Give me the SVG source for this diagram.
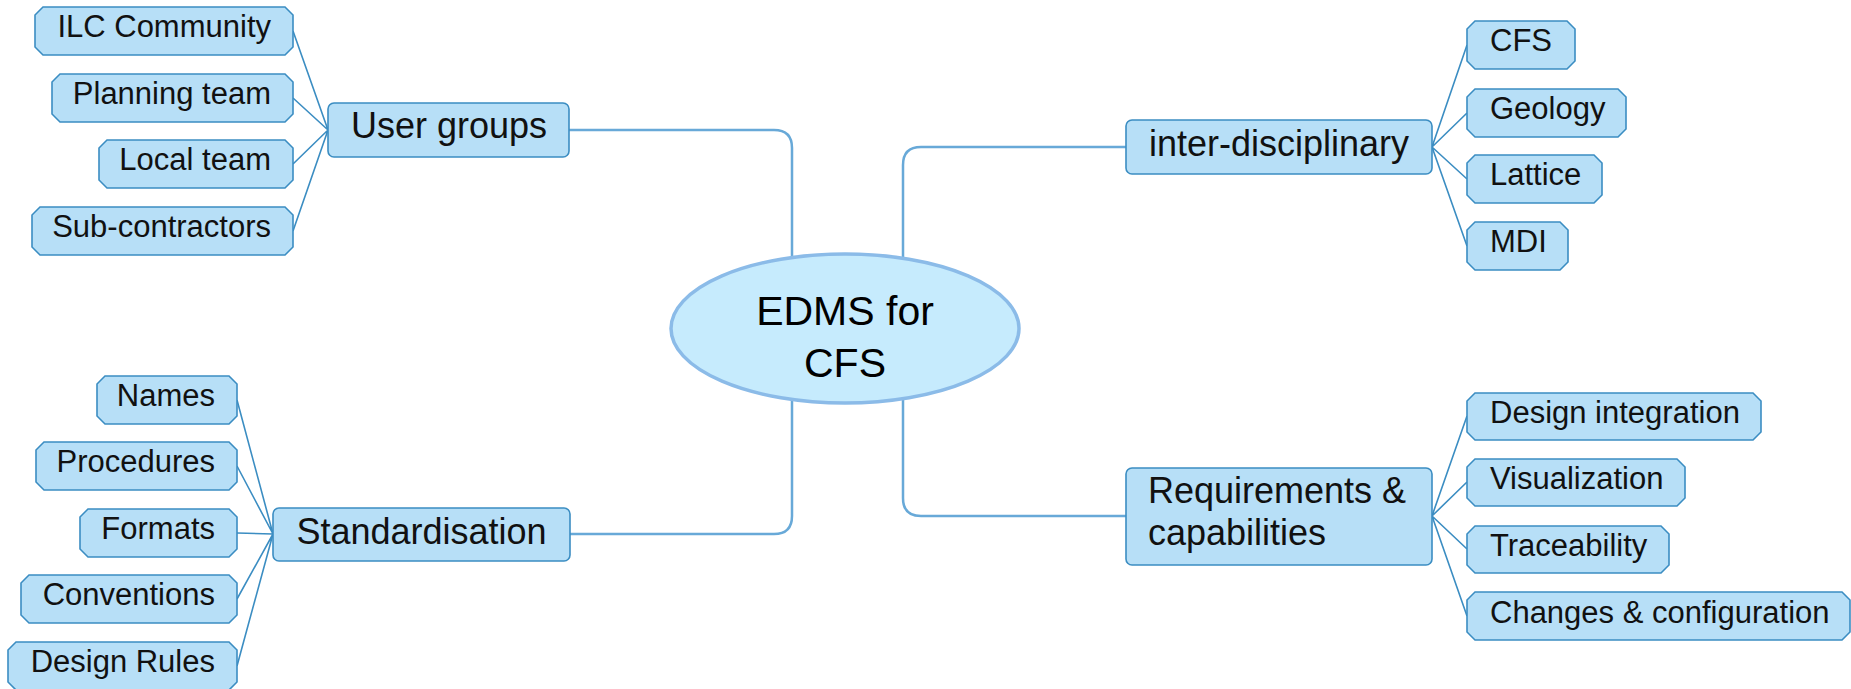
<svg xmlns="http://www.w3.org/2000/svg" width="1851" height="689" viewBox="0 0 1851 689">
<style>
.bg{fill:#ffffff}
.main{fill:none;stroke:#68a9d8;stroke-width:2.5}
.sub{fill:none;stroke:#3b8dc2;stroke-width:1.6}
.leaf{fill:#b7dff7;stroke:#3b8dc2;stroke-width:1.6}
.branch{fill:#b7dff7;stroke:#3b8dc2;stroke-width:1.6}
.center{fill:#c6ebfd;stroke:#8bbbe8;stroke-width:3.5}
text{font-family:"Liberation Sans",Arial,Helvetica,sans-serif;fill:#111111}
.lt{font-size:31px}
.bt{font-size:36px}
.ct{font-size:41px;fill:#000000}
</style>
<rect class="bg" x="0" y="0" width="1851" height="689"/>
<g id="connectors">
  <path class="main" d="M569,130 H774 Q792,130 792,148 V300"/>
  <path class="main" d="M1126,147 H921 Q903,147 903,165 V300"/>
  <path class="main" d="M570,534 H774 Q792,534 792,516 V360"/>
  <path class="main" d="M1126,516 H921 Q903,516 903,498 V360"/>
  <path class="sub" d="M293,31 L328,130 M293,98 L328,130 M293,164 L328,130 M293,231 L328,130"/>
  <path class="sub" d="M1432,147 L1467,45 M1432,147 L1467,113 M1432,147 L1467,179 M1432,147 L1467,246"/>
  <path class="sub" d="M237,400 L273,534 M237,466 L273,534 M237,533 L273,534 M237,599 L273,534 M237,666 L273,534"/>
  <path class="sub" d="M1432,516 L1467,416 M1432,516 L1467,482 M1432,516 L1467,549 M1432,516 L1467,616"/>
</g>
<g id="center">
  <ellipse class="center" cx="845" cy="328.5" rx="174" ry="74.5"/>
  <text class="ct" x="845" y="325" text-anchor="middle">EDMS for</text>
  <text class="ct" x="845" y="377" text-anchor="middle">CFS</text>
</g>
<g id="user-groups">
  <rect class="branch" x="328" y="103" width="241" height="54" rx="6"/>
  <text class="bt" x="449" y="138" text-anchor="middle">User groups</text>
</g>
<g id="inter-disciplinary">
  <rect class="branch" x="1126" y="120" width="306" height="54" rx="6"/>
  <text class="bt" x="1279" y="156" text-anchor="middle">inter-disciplinary</text>
</g>
<g id="standardisation">
  <rect class="branch" x="273" y="508" width="297" height="53" rx="6"/>
  <text class="bt" x="421.5" y="544" text-anchor="middle">Standardisation</text>
</g>
<g id="requirements">
  <rect class="branch" x="1126" y="468" width="306" height="97" rx="6"/>
  <text class="bt" x="1148" y="503">Requirements &amp;</text>
  <text class="bt" x="1148" y="545">capabilities</text>
</g>
<g id="ilc-community">
  <polygon class="leaf" points="43,7 285,7 293,15 293,47 285,55 43,55 35,47 35,15"/>
  <text class="lt" x="271" y="37" text-anchor="end">ILC Community</text>
</g>
<g id="planning-team">
  <polygon class="leaf" points="60,74 285,74 293,82 293,114 285,122 60,122 52,114 52,82"/>
  <text class="lt" x="271" y="104" text-anchor="end">Planning team</text>
</g>
<g id="local-team">
  <polygon class="leaf" points="107,140 285,140 293,148 293,180 285,188 107,188 99,180 99,148"/>
  <text class="lt" x="271" y="170" text-anchor="end">Local team</text>
</g>
<g id="sub-contractors">
  <polygon class="leaf" points="40,207 285,207 293,215 293,247 285,255 40,255 32,247 32,215"/>
  <text class="lt" x="271" y="237" text-anchor="end">Sub-contractors</text>
</g>
<g id="cfs">
  <polygon class="leaf" points="1475,21 1567,21 1575,29 1575,61 1567,69 1475,69 1467,61 1467,29"/>
  <text class="lt" x="1490" y="51">CFS</text>
</g>
<g id="geology">
  <polygon class="leaf" points="1475,89 1618,89 1626,97 1626,129 1618,137 1475,137 1467,129 1467,97"/>
  <text class="lt" x="1490" y="119">Geology</text>
</g>
<g id="lattice">
  <polygon class="leaf" points="1475,155 1594,155 1602,163 1602,195 1594,203 1475,203 1467,195 1467,163"/>
  <text class="lt" x="1490" y="185">Lattice</text>
</g>
<g id="mdi">
  <polygon class="leaf" points="1475,222 1560,222 1568,230 1568,262 1560,270 1475,270 1467,262 1467,230"/>
  <text class="lt" x="1490" y="252">MDI</text>
</g>
<g id="names">
  <polygon class="leaf" points="105,376 229,376 237,384 237,416 229,424 105,424 97,416 97,384"/>
  <text class="lt" x="215" y="406" text-anchor="end">Names</text>
</g>
<g id="procedures">
  <polygon class="leaf" points="44,442 229,442 237,450 237,482 229,490 44,490 36,482 36,450"/>
  <text class="lt" x="215" y="472" text-anchor="end">Procedures</text>
</g>
<g id="formats">
  <polygon class="leaf" points="88,509 229,509 237,517 237,549 229,557 88,557 80,549 80,517"/>
  <text class="lt" x="215" y="539" text-anchor="end">Formats</text>
</g>
<g id="conventions">
  <polygon class="leaf" points="29,575 229,575 237,583 237,615 229,623 29,623 21,615 21,583"/>
  <text class="lt" x="215" y="605" text-anchor="end">Conventions</text>
</g>
<g id="design-rules">
  <polygon class="leaf" points="16,642 229,642 237,650 237,682 229,690 16,690 8,682 8,650"/>
  <text class="lt" x="215" y="672" text-anchor="end">Design Rules</text>
</g>
<g id="design-integration">
  <polygon class="leaf" points="1475,393 1753,393 1761,401 1761,432 1753,440 1475,440 1467,432 1467,401"/>
  <text class="lt" x="1490" y="423">Design integration</text>
</g>
<g id="visualization">
  <polygon class="leaf" points="1475,459 1677,459 1685,467 1685,498 1677,506 1475,506 1467,498 1467,467"/>
  <text class="lt" x="1490" y="489">Visualization</text>
</g>
<g id="traceability">
  <polygon class="leaf" points="1475,526 1661,526 1669,534 1669,565 1661,573 1475,573 1467,565 1467,534"/>
  <text class="lt" x="1490" y="556">Traceability</text>
</g>
<g id="changes-configuration">
  <polygon class="leaf" points="1475,592 1842,592 1850,600 1850,632 1842,640 1475,640 1467,632 1467,600"/>
  <text class="lt" x="1490" y="623">Changes &amp; configuration</text>
</g>
</svg>
